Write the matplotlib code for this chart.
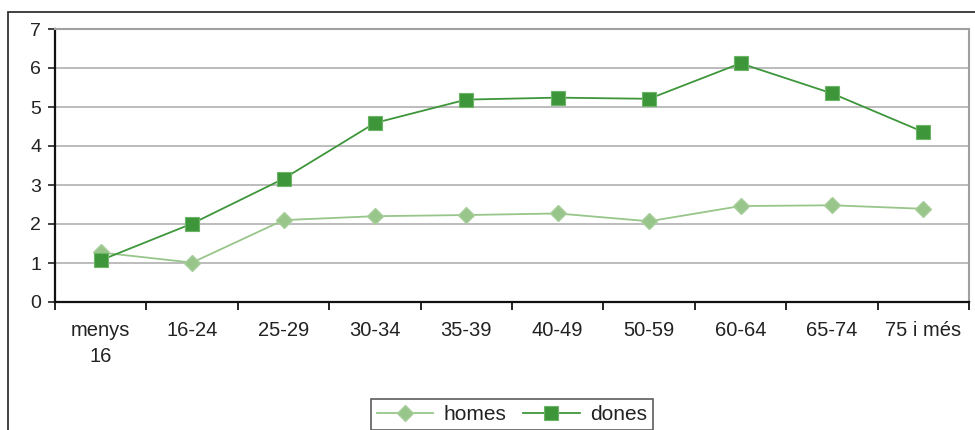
import matplotlib.pyplot as plt
from matplotlib.patches import Rectangle

plt.rcParams['font.family'] = ['Liberation Sans', 'DejaVu Sans']

categories = ['menys\n16', '16-24', '25-29', '30-34', '35-39', '40-49',
              '50-59', '60-64', '65-74', '75 i més']
homes = [1.27, 1.01, 2.10, 2.20, 2.23, 2.27, 2.07, 2.46, 2.48, 2.39]
dones = [1.07, 2.01, 3.16, 4.59, 5.19, 5.24, 5.21, 6.12, 5.35, 4.36]

homes_color = '#98c58a'
dones_color = '#3e963a'

fig = plt.figure(figsize=(9.75, 4.3), dpi=100)

# outer frame of the chart area
fig.patches.append(Rectangle((8 / 975, -0.1), 1.0, (430 - 12) / 430 + 0.1,
                             transform=fig.transFigure, fill=False,
                             edgecolor='#333333', linewidth=1.3))

ax = fig.add_axes([55 / 975, (430 - 302) / 430, 914 / 975, 273 / 430])

x = range(len(categories))
ax.plot(x, homes, color=homes_color, marker='D', markersize=8.5,
        markeredgecolor='#a8cf9b', linewidth=1.3, label='homes')
ax.plot(x, dones, color=dones_color, marker='s', markersize=9.5,
        markeredgecolor='#6db566', markeredgewidth=0.8, linewidth=1.3, label='dones')

ax.set_xlim(-0.5, len(categories) - 0.5)
ax.set_ylim(0, 7)
ax.set_yticks(range(8))
ax.yaxis.grid(True, color='#b0b0b0', linewidth=1.2)
ax.set_axisbelow(True)

ax.set_xticks(list(x))
ax.set_xticklabels(categories, fontsize=14.5, color='#222222', linespacing=1.45)
ax.tick_params(axis='x', length=0, pad=14)
ax.set_xticks([i + 0.5 for i in range(-1, len(categories))], minor=True)
ax.tick_params(axis='x', which='minor', length=6, width=1.2, direction='out')
ax.tick_params(axis='y', labelsize=14, length=5, width=1.2, colors='#222222', pad=5)

for side in ['top', 'right']:
    ax.spines[side].set_color('#a0a0a0')
    ax.spines[side].set_linewidth(1.5)
for side in ['left', 'bottom']:
    ax.spines[side].set_color('#111111')
    ax.spines[side].set_linewidth(1.6)

leg = fig.legend(loc='lower center', bbox_to_anchor=(512 / 975, -0.025), ncol=2,
                 fontsize=15, frameon=True, fancybox=False, edgecolor='#333333',
                 handlelength=2.7, columnspacing=0.8, handletextpad=0.5,
                 borderpad=0.3)
leg.get_frame().set_linewidth(1.2)
for t in leg.get_texts():
    t.set_color('#222222')

fig.savefig('out.png', dpi=100)
